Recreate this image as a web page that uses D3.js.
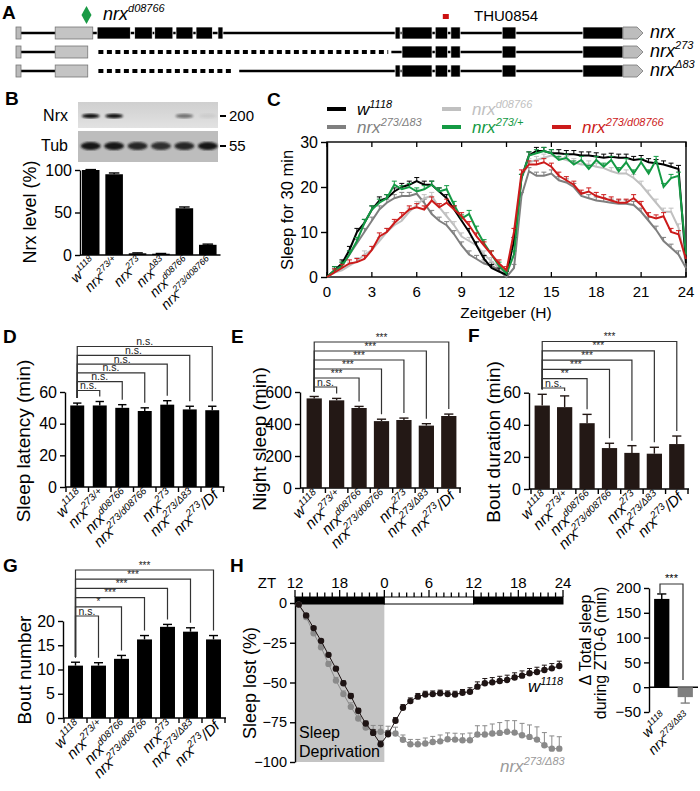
<!DOCTYPE html>
<html><head><meta charset="utf-8">
<script src="https://cdn.jsdelivr.net/npm/d3@7/dist/d3.min.js"></script>
<style>body{margin:0;background:#fff} svg{display:block;font-family:Arial,"Liberation Sans",sans-serif}</style>
</head><body><svg id="fig" width="700" height="791"></svg>
<script>
// ---------------- DATA ----------------
// Panel A: gene model (gene coordinate units 0-100)
const geneRowLabels = ["nrx", "nrx^{273}", "nrx^{Δ83}"];
const exonsFull = [[12.8,18.1],[18.8,21.6],[22.0,24.9],[25.4,28.1],[28.6,31.2],[32.1,32.9],[60.4,61.2],[61.5,66.3],[66.8,68.8],[69.3,70.8],[77.5,79.7],[90.4,96.8]];
const exons273 = [[61.5,66.3],[66.8,68.8],[69.3,70.8],[77.5,79.7],[90.4,96.8]];
const exonsD83 = [[60.4,61.2],[61.5,66.3],[66.8,68.8],[69.3,70.8],[77.5,79.7],[90.4,96.8]];
const utrStart = [[6.1,12.1],[6.1,11.3],[6.1,11.3]];
const solidSegs = [[[0,96.8]], [[0,6.1],[59.8,96.8]], [[0,6.1],[35.5,96.8]]];
const deletedSegs = [[], [[13,59.3]], [[13,34.3]]];
const pElementPos = 11.1, probePos = 68.5;

// Panel B
const genoB = ["w^{1118}", "nrx^{273/+}", "nrx^{273}", "nrx^{Δ83}", "nrx^{d08766}", "nrx^{273/d08766}"];
const nrxLevel = [100, 95, 2, 1.5, 55, 12];
const nrxLevelErr = [0.5, 1.5, 0.5, 0.3, 1.5, 0.8];
const nrxBand = [1, 1, 0, 0, 0.5, 0.06];
const tubBand = [1, 1, 0.9, 0.85, 0.9, 1];

// Panel C: sleep per 30 min, ZT 0..24 every 0.5 h
const seriesNames = ["nrx^{273/Δ83}", "nrx^{d08766}", "w^{1118}", "nrx^{273/+}", "nrx^{273/d08766}"];
const sleepD83 = [0,1,2.5,5,7.5,10,12.5,15,16.5,17.5,18,18,18.5,16.5,14,12.5,11.5,9.5,7,5,4,3,2.5,1.5,0,
  2,18,23.5,22.5,22.5,23,21.5,21,20,18,17.5,17,16.8,16.5,16.3,16.3,16,14.5,12.5,10.5,8,6.5,5,2];
const sleepD08766 = [0,1,1.5,2.5,3.5,5,6,8,10,11.5,12.5,14.5,16,17.5,18,15.5,13.5,11.5,9,8,7,5,3.5,2,0.5,
  5,22,25.5,26,26.5,27,26.5,26,25.5,25,25,24.5,24.2,23.5,23,23,22,20.5,18.5,16.5,14.5,14.5,11,3];
const sleepW1118 = [0,1.5,3,6,10,12,15,17,17.5,19,20,20.5,21.3,20.5,20.5,19,17.5,15,12.5,10,7,4,2,1.2,0.5,
  8,22,27,28,28,27.5,27.5,27.3,27.3,27,27,26.8,26.5,26.7,26.5,26.5,26,26.2,25.5,25.3,25,24.5,24,3];
const sleepHet = [0,1.5,2.5,5,8,12,15,16.5,17.5,20.5,19.5,20,19,19.5,20.5,19,19.5,16,13,14,10.5,7.5,5,2.5,0.8,
  5,22,27,27.5,28,27.5,26,26.5,25,26,24,26,24.5,26,23.5,25.5,23,25.5,23,26,20,22,22.5,5];
const sleepTransHet = [0,1,2,3,3.3,4,6,9,10,12,13.5,15,15.5,15,17,15.5,16.5,15,13.5,11.5,9,7,5,3,1.5,
  10,23,25,25,25.5,24.5,22.5,21.5,20.5,18.5,19,18,17.5,17,16.5,16.5,17.5,16,13.5,13,13.5,10,9.5,4];
const sleepSE = 0.8;
const cTicksX = [0,3,6,9,12,15,18,21,24];
const cTicksY = [0,10,20,30];

// Panels D-G
const genoDG = ["w^{1118}", "nrx^{273/+}", "nrx^{d08766}", "nrx^{273/d08766}", "nrx^{273}", "nrx^{273/Δ83}", "nrx^{273}/Df"];
const latency = [51.5,51.5,50,48,52,49,48.5];
const latencyErr = [1.5,2.5,2,2,2.5,2,2.5];
const nightSleep = [560,548,500,418,425,390,450];
const nightSleepErr = [12,12,10,12,12,12,12];
const boutDur = [52,51,41,25.5,22.5,22,28];
const boutDurErr = [7,7,5.5,3,4.5,4,5];
const boutNum = [10.8,10.8,12.2,16.2,18.8,17.8,16.2];
const boutNumErr = [0.7,0.6,0.7,0.8,0.5,0.8,0.8];
const sigD = ["n.s.","n.s.","n.s.","n.s.","n.s.","n.s."];
const sigE = ["n.s.","***","***","***","***","***"];
const sigF = ["n.s.","**","***","***","***","***"];
const sigG = ["n.s.","*","***","***","***","***"];

// Panel H: sleep lost (%), hourly, ZT12 (day 0) .. ZT24 (day 1)
const hHours = d3.range(12.5, 48, 1);
const lostW1118 = [-1,-7.8,-15.8,-23.8,-32.6,-41.3,-50.5,-58.5,-67.8,-75.8,-81.7,-88.8,
  -82.5,-74.1,-65.9,-61.7,-58.9,-57.5,-57.3,-56.8,-57.3,-57.5,-56.4,-55.8,
  -52.6,-50.5,-49.9,-49.1,-48.4,-46.9,-45.7,-44.2,-43.4,-42.1,-41.1,-39.6];
const lostW1118Err = [0.5,1,1,1,1,1,1.5,1.5,1.5,1.5,2,2, 2,2,2,2,2,2,2,2,2,2,2,2.5, 3,3,3,3,3,3,3,3,3,3,3,3];
const lostMut = [-1,-8.8,-19,-27.8,-38.3,-48.8,-57.3,-65.3,-72.6,-78.3,-81,-81,
  -81.5,-82.1,-86,-88.8,-88.8,-88.4,-87.4,-87,-85.7,-85.9,-86.3,-86.3,
  -82.7,-82.7,-82.1,-81.7,-81,-81.5,-83.2,-84.2,-85.9,-89.5,-91.6,-91.6];
const lostMutErr = [0.5,1,1,1.5,1.5,2,2,2.5,3,3.5,4,4, 4,4,3,3,3,3.5,3.5,4,4,4,4,4.5, 5.5,5.5,6,6.5,7,7.5,7.5,7.5,8,8,8,7.5];
const ztTickVals = [12,18,24,30,36,42,48];
const ztTickLabels = ["12","18","0","6","12","18","24"];
const lostTicks = [0,-25,-50,-75,-100];
const ldBlocks = [[12,24,"#000"],[24,36,"#fff"],[36,48,"#000"]];
const genoH = ["w^{1118}", "nrx^{273/Δ83}"];
const deltaSleep = [178, -20];
const deltaSleepErr = [10, 12];

// ---------------- DRAWING ----------------
const FONT = 'Arial, "Liberation Sans", sans-serif';
const svg = d3.select("#fig");
svg.append("rect").attr("width",700).attr("height",791).attr("fill","#fff");

function rich(parent, str, x, y, o){
  const size=o.size, sup=o.sup||size*0.65;
  const t=parent.append("text").attr("x",x).attr("y",y).attr("font-size",size)
    .attr("font-family",FONT)
    .attr("font-style", o.italic===false?"normal":"italic").attr("fill",o.fill||"#000")
    .attr("text-anchor",o.anchor||"start");
  if(o.rotate) t.attr("transform",`rotate(${o.rotate},${x},${y})`);
  const parts=str.split(/(\^\{[^}]*\})/).filter(s=>s.length);
  let raised=false;
  parts.forEach(p=>{
    if(p.startsWith("^{")){
      t.append("tspan").attr("font-size",sup).attr("dy",raised?0:-size*0.42).text(p.slice(2,-1));
      raised=true;
    } else {
      t.append("tspan").attr("dy",raised?size*0.42:0).text(p); raised=false;
    }
  });
  return t;
}
function panelLabel(t,x,y){
  svg.append("text").attr("x",x).attr("y",y).attr("font-size",19).attr("font-weight","bold")
    .attr("font-family",FONT).text(t);
}
function vTitle(text,x,yc,fs){
  svg.append("text").attr("transform",`translate(${x},${yc}) rotate(-90)`).attr("text-anchor","middle")
    .attr("font-size",fs).attr("font-family",FONT).text(text);
}
function styleAxis(a, fs){
  a.selectAll("text").attr("font-size",fs).attr("font-family",FONT).attr("fill","#000");
  a.selectAll("line,path").attr("stroke","#000").attr("stroke-width",1.4);
}

// ---------- Panel A ----------
panelLabel("A",2,19);
const gx = d3.scaleLinear().domain([0,100]).range([17,643]);
const rowY = [33,52,71];
const exonSets = [exonsFull, exons273, exonsD83];
rowY.forEach((ry,r)=>{
  const g = svg.append("g");
  solidSegs[r].forEach(s=> g.append("line").attr("x1",gx(s[0])).attr("x2",gx(s[1])).attr("y1",ry).attr("y2",ry).attr("stroke","#000").attr("stroke-width",2.5));
  deletedSegs[r].forEach(s=> g.append("line").attr("x1",gx(s[0])).attr("x2",gx(s[1])).attr("y1",ry).attr("y2",ry).attr("stroke","#000").attr("stroke-width",4).attr("stroke-dasharray","5,3.5"));
  g.append("rect").attr("x",gx(0)-1).attr("width",5).attr("y",ry-6).attr("height",12).attr("fill","#bbb").attr("stroke","#777").attr("stroke-width",0.8);
  g.append("rect").attr("x",gx(utrStart[r][0])).attr("width",gx(utrStart[r][1])-gx(utrStart[r][0])).attr("y",ry-6).attr("height",12).attr("fill","#c4c4c4").attr("stroke","#777").attr("stroke-width",0.8);
  exonSets[r].forEach(e=> g.append("rect").attr("x",gx(e[0])).attr("width",gx(e[1])-gx(e[0])).attr("y",ry-6).attr("height",12).attr("fill","#000").attr("stroke","#fff").attr("stroke-width",0.7));
  const a0=gx(96.8), a1=gx(100);
  g.append("path").attr("d",`M${a0},${ry-6}H${a1-6}L${a1},${ry}L${a1-6},${ry+6}H${a0}Z`).attr("fill","#bdbdbd").attr("stroke","#777").attr("stroke-width",0.8);
  rich(svg, geneRowLabels[r], 650, ry+5, {size:18, sup:11});
});
svg.append("path").attr("d",`M${gx(pElementPos)},6 L${gx(pElementPos)+5},15 L${gx(pElementPos)},24 L${gx(pElementPos)-5},15Z`).attr("fill","#1a9a45");
rich(svg,"nrx^{d08766}",103,20,{size:18,sup:11});
svg.append("rect").attr("x",gx(probePos)-3).attr("y",14).attr("width",6).attr("height",5).attr("fill","#cc1111");
svg.append("text").attr("x",474).attr("y",21).attr("font-size",15).attr("font-family",FONT).text("THU0854");

// ---------- generic bar panel ----------
function barPanel(o){
  const g = svg.append("g");
  const y = d3.scaleLinear().domain([o.ymin||0, o.ymax]).range([o.y0, o.y1]);
  const x = d3.scaleBand().domain(o.cats).range(o.xr).paddingInner(o.pad).paddingOuter(o.pad/2);
  const step = (o.xr[1]-o.xr[0])/o.cats.length;
  const ya = g.append("g").attr("transform",`translate(${o.ax},0)`)
    .call(d3.axisLeft(y).tickValues(o.ticks).tickSize(5).tickSizeOuter(0).tickPadding(3));
  styleAxis(ya, o.tickFs);
  const zy = y(0);
  g.append("line").attr("x1",o.ax).attr("x2",o.xr[1]+1).attr("y1",zy).attr("y2",zy).attr("stroke","#000").attr("stroke-width",1.4);
  if(o.xticks){
    d3.range(o.cats.length+1).forEach(i=> g.append("line").attr("x1",o.xr[0]+i*step).attr("x2",o.xr[0]+i*step).attr("y1",zy).attr("y2",zy+5).attr("stroke","#000").attr("stroke-width",1.4));
  }
  const col = (i)=> Array.isArray(o.color)?o.color[i]:o.color;
  g.selectAll("rect.bar").data(o.vals).join("rect").attr("class","bar")
    .attr("x",(d,i)=>x(o.cats[i])).attr("width",x.bandwidth())
    .attr("y",d=>Math.min(y(d),zy)).attr("height",d=>Math.abs(zy-y(d))).attr("fill",(d,i)=>col(i));
  o.vals.forEach((v,i)=>{
    const cxp = x(o.cats[i])+x.bandwidth()/2, e=o.errs[i]*(v<0?-1:1);
    const ye=y(v+e), cw=x.bandwidth()*0.3;
    g.append("line").attr("x1",cxp).attr("x2",cxp).attr("y1",y(v)).attr("y2",ye).attr("stroke",col(i)).attr("stroke-width",1.4);
    g.append("line").attr("x1",cxp-cw).attr("x2",cxp+cw).attr("y1",ye).attr("y2",ye).attr("stroke",col(i)).attr("stroke-width",1.4);
    rich(g, o.cats[i], cxp+(o.labDx||7), (o.labY||zy+9), {size:o.labFs, sup:o.supFs, anchor:"end", rotate:-45});
  });
  if(o.sig){
    const c0 = x(o.cats[0])+x.bandwidth()/2;
    const top0 = y(o.vals[0]+o.errs[0])-5;
    o.sig.forEach((s,k)=>{
      const i=k+1, by=o.sigY0-k*o.sigStep;
      const ci = x(o.cats[i])+x.bandwidth()/2;
      const topi = y(o.vals[i]+o.errs[i])-5;
      g.append("path").attr("d",`M${c0},${top0}V${by}H${ci}V${topi}`).attr("fill","none").attr("stroke","#333").attr("stroke-width",1.2);
      g.append("text").attr("x",(c0+ci)/2).attr("y",by-1.5).attr("text-anchor","middle").attr("font-size",s==="n.s."?10.5:10)
        .attr("font-family",FONT).attr("fill","#222").text(s);
    });
  }
  return {x,y};
}

// ---------- Panel B ----------
panelLabel("B",5,105);
const lanes = d3.scaleBand().domain(genoB).range([79,219.5]).paddingInner(0.25).paddingOuter(0.125);
const defs = svg.append("defs");
defs.append("filter").attr("id","blur").append("feGaussianBlur").attr("stdDeviation",1.3);
const gradN = defs.append("linearGradient").attr("id","gN").attr("x1",0).attr("x2",0).attr("y1",0).attr("y2",1);
gradN.append("stop").attr("offset",0).attr("stop-color","#cfcfcf");
gradN.append("stop").attr("offset",1).attr("stop-color","#e2e2e2");
svg.append("rect").attr("x",78).attr("y",102).attr("width",140).attr("height",26).attr("fill","url(#gN)");
svg.append("rect").attr("x",78).attr("y",131).attr("width",140).attr("height",31).attr("fill","#bdbdbd");
genoB.forEach((k,i)=>{
  const c=lanes(k)+lanes.bandwidth()/2;
  if(nrxBand[i]>0) svg.append("ellipse").attr("cx",c).attr("cy",116).attr("rx",9).attr("ry",2.2).attr("fill","#111").attr("opacity",nrxBand[i]).attr("filter","url(#blur)");
  svg.append("ellipse").attr("cx",c).attr("cy",146).attr("rx",10).attr("ry",4).attr("fill","#151515").attr("opacity",tubBand[i]).attr("filter","url(#blur)");
});
svg.append("text").attr("x",68).attr("y",121).attr("text-anchor","end").attr("font-size",16).attr("font-family",FONT).text("Nrx");
svg.append("text").attr("x",68).attr("y",151).attr("text-anchor","end").attr("font-size",16).attr("font-family",FONT).text("Tub");
[[116,"200"],[146,"55"]].forEach(d=>{
  svg.append("line").attr("x1",220).attr("x2",226).attr("y1",d[0]).attr("y2",d[0]).attr("stroke","#000").attr("stroke-width",2);
  svg.append("text").attr("x",229).attr("y",d[0]+5).attr("font-size",15).attr("font-family",FONT).text(d[1]);
});
barPanel({cats:genoB, vals:nrxLevel, errs:nrxLevelErr, ymax:100, y0:255, y1:170, ax:80, xr:[79,219.5], pad:0.25,
  ticks:[0,50,100], tickFs:16, color:"#000", labFs:14, supFs:9, labY:263, labDx:6});
vTitle("Nrx level (%)",36,212,18);

// ---------- Panel C ----------
panelLabel("C",267,106);
const hours = d3.range(0,24.01,0.5);
const cxs = d3.scaleLinear().domain([0,24]).range([327,686]);
const cys = d3.scaleLinear().domain([0,30]).range([277,142]);
const cyA = svg.append("g").attr("transform","translate(327,0)").call(d3.axisLeft(cys).tickValues(cTicksY).tickSize(6).tickSizeOuter(0).tickPadding(3));
styleAxis(cyA,16);
svg.append("rect").attr("x",327).attr("y",142).attr("width",359).attr("height",135).attr("fill","none").attr("stroke","#000").attr("stroke-width",1.4);
cTicksX.forEach(t=>{
  svg.append("line").attr("x1",cxs(t)).attr("x2",cxs(t)).attr("y1",142).attr("y2",147).attr("stroke","#000").attr("stroke-width",1.3);
  svg.append("line").attr("x1",cxs(t)).attr("x2",cxs(t)).attr("y1",277).attr("y2",272).attr("stroke","#000").attr("stroke-width",1.3);
  svg.append("text").attr("x",cxs(t)).attr("y",297).attr("text-anchor","middle").attr("font-size",15).attr("font-family",FONT).text(t);
});
svg.append("text").attr("x",506).attr("y",318).attr("text-anchor","middle").attr("font-size",15.5).attr("font-family",FONT).text("Zeitgeber (H)");
vTitle("Sleep for 30 min",293,210,16.5);
const cSeries = [sleepD83, sleepD08766, sleepW1118, sleepHet, sleepTransHet];
const cColors = ["#7f7f7f","#c0c0c0","#000000","#149a44","#cc1b1b"];
const line = d3.line().x((d,i)=>cxs(hours[i])).y(d=>cys(d));
cSeries.forEach((s,k)=>{
  const g=svg.append("g");
  g.append("path").attr("d",line(s)).attr("fill","none").attr("stroke",cColors[k]).attr("stroke-width",2);
  s.forEach((v,i)=>{
    if(i===0||i===s.length-1) return;
    const yy=cys(v+sleepSE);
    g.append("line").attr("x1",cxs(hours[i])).attr("x2",cxs(hours[i])).attr("y1",cys(v)).attr("y2",yy).attr("stroke",cColors[k]).attr("stroke-width",1);
    g.append("line").attr("x1",cxs(hours[i])-2.5).attr("x2",cxs(hours[i])+2.5).attr("y1",yy).attr("y2",yy).attr("stroke",cColors[k]).attr("stroke-width",1);
  });
});
const legendPosFix = [[327,127],[442,109],[327,109],[442,127],[552,127]];
seriesNames.forEach((n,k)=>{
  const p=legendPosFix[k];
  svg.append("line").attr("x1",p[0]).attr("x2",p[0]+19).attr("y1",p[1]).attr("y2",p[1]).attr("stroke",cColors[k]).attr("stroke-width",4);
  rich(svg,n,p[0]+30,p[1]+6,{size:17,sup:11,fill:cColors[k]});
});

// ---------- Panels D, E, F, G ----------
panelLabel("D",3,343);
barPanel({cats:genoDG, vals:latency, errs:latencyErr, ymax:60, y0:487, y1:392, ax:65, xr:[66,223.5], pad:0.38,
  ticks:[0,20,40,60], tickFs:16, color:"#000", labFs:15, supFs:10, xticks:true, sig:sigD, sigY0:390.5, sigStep:8.8});
vTitle("Sleep latency (min)",30,441,19);

panelLabel("E",231,343);
barPanel({cats:genoDG, vals:nightSleep, errs:nightSleepErr, ymax:600, y0:488, y1:392, ax:300, xr:[303,460], pad:0.32,
  ticks:[0,200,400,600], tickFs:16, color:"#231815", labFs:15, supFs:10, xticks:true, sig:sigE, sigY0:387, sigStep:9});
vTitle("Night sleep (min)",266,439,19);

panelLabel("F",468,342);
barPanel({cats:genoDG, vals:boutDur, errs:boutDurErr, ymax:60, y0:489, y1:392.7, ax:529, xr:[531,688], pad:0.32,
  ticks:[0,20,40,60], tickFs:16, color:"#231815", labFs:15, supFs:10, xticks:true, sig:sigF, sigY0:388, sigStep:9.3});
vTitle("Bout duration (min)",500,442,19);

panelLabel("G",3,572);
barPanel({cats:genoDG, vals:boutNum, errs:boutNumErr, ymax:20, y0:718, y1:621, ax:63, xr:[64,225], pad:0.35,
  ticks:[0,5,10,15,20], tickFs:16, color:"#000", labFs:15, supFs:10, xticks:true, sig:sigG, sigY0:616, sigStep:9.2});
vTitle("Bout number",31,670,19);

// ---------- Panel H ----------
panelLabel("H",230,572);
const hx = d3.scaleLinear().domain([12,48]).range([295,563]);
const hy = d3.scaleLinear().domain([-100,0]).range([762,603]);
svg.append("rect").attr("x",hx(12)).attr("width",hx(24)-hx(12)).attr("y",hy(0)).attr("height",hy(-100)-hy(0)).attr("fill","#c4c4c4");
ldBlocks.forEach(b=> svg.append("rect").attr("x",hx(b[0])).attr("width",hx(b[1])-hx(b[0])).attr("y",597).attr("height",7).attr("fill",b[2]).attr("stroke","#000").attr("stroke-width",1));
d3.range(12,48.01,1).forEach(h=>{
  const major = ztTickVals.includes(h);
  svg.append("line").attr("x1",hx(h)).attr("x2",hx(h)).attr("y1",597).attr("y2",major?590:592.5).attr("stroke","#000").attr("stroke-width",1.3);
});
ztTickVals.forEach((v,i)=> svg.append("text").attr("x",hx(v)).attr("y",588).attr("text-anchor","middle").attr("font-size",15).attr("font-family",FONT).text(ztTickLabels[i]));
svg.append("text").attr("x",267).attr("y",588).attr("text-anchor","middle").attr("font-size",15).attr("font-family",FONT).text("ZT");
const hyA = svg.append("g").attr("transform","translate(295,0)").call(d3.axisLeft(hy).tickValues(lostTicks).tickSize(5).tickSizeOuter(0).tickPadding(3));
styleAxis(hyA,14.5);
svg.append("text").attr("x",299).attr("y",738).attr("font-size",16).attr("font-family",FONT).text("Sleep");
svg.append("text").attr("x",299).attr("y",757).attr("font-size",16).attr("font-family",FONT).text("Deprivation");
vTitle("Sleep lost (%)",256,683,18);
function hSeries(vals, errs, color){
  const g=svg.append("g");
  g.append("path").attr("d",d3.line().x((d,i)=>hx(hHours[i])).y(d=>hy(d))(vals)).attr("fill","none").attr("stroke",color).attr("stroke-width",1);
  vals.forEach((v,i)=>{
    const x=hx(hHours[i]), ye=hy(v+errs[i]);
    g.append("line").attr("x1",x).attr("x2",x).attr("y1",hy(v)).attr("y2",ye).attr("stroke",color).attr("stroke-width",1);
    g.append("line").attr("x1",x-2.5).attr("x2",x+2.5).attr("y1",ye).attr("y2",ye).attr("stroke",color).attr("stroke-width",1);
    g.append("circle").attr("cx",x).attr("cy",hy(v)).attr("r",3.2).attr("fill",color);
  });
}
hSeries(lostMut, lostMutErr, "#8a8a8a");
hSeries(lostW1118, lostW1118Err, "#1e1414");
rich(svg,"w^{1118}",528,692,{size:17,sup:11});
rich(svg,"nrx^{273/Δ83}",500,772,{size:17,sup:11,fill:"#9a9a9a"});

// H right: delta total sleep
barPanel({cats:genoH, vals:deltaSleep, errs:deltaSleepErr, ymin:-50, ymax:200, y0:712, y1:588, ax:649, xr:[650,697], pad:0.35,
  ticks:[-50,0,50,100,150,200], tickFs:15, color:["#000","#7f7f7f"], labFs:14, supFs:9, labY:718, labDx:6});
svg.append("path").attr("d","M660,593V584H683V680").attr("fill","none").attr("stroke","#333").attr("stroke-width",1.2);
svg.append("text").attr("x",671.5).attr("y",582).attr("text-anchor","middle").attr("font-size",11).attr("font-family",FONT).text("***");
vTitle("Δ Total sleep",591,640,16);
vTitle("during ZT0-6 (min)",606,653,16);
</script></body></html>
